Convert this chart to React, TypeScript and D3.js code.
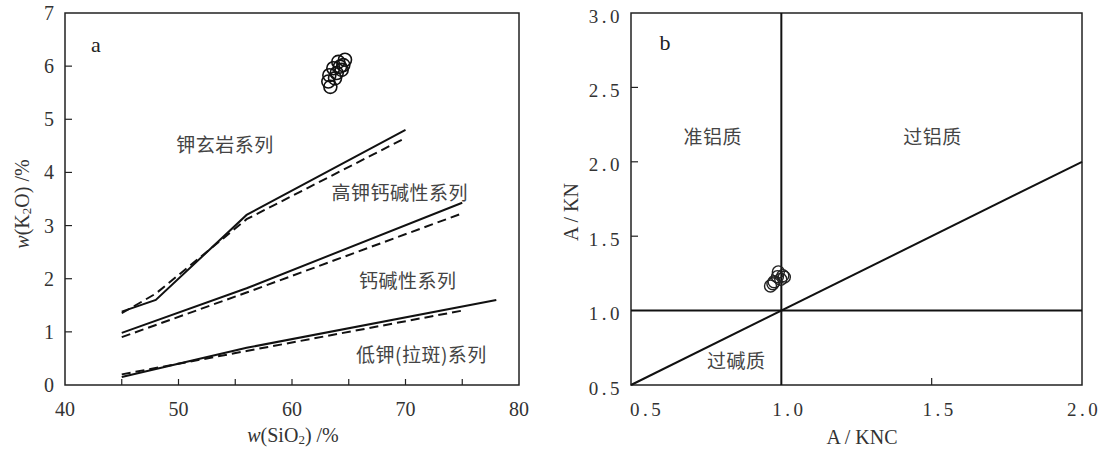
import React from 'react';
import * as d3 from 'd3';

// ---------- Panel a data ----------
const aXTicks = [40, 50, 60, 70, 80];
const aYTicks = [0, 1, 2, 3, 4, 5, 6, 7];
const aXInnerTicks = [45, 50, 55, 60, 65, 70, 75];
const aYInnerTicks = [1, 2, 3, 4, 5, 6];

const shoSolid: [number, number][] = [[45, 1.38], [48, 1.6], [56, 3.2], [70, 4.8]];
const shoDashed: [number, number][] = [[45, 1.35], [48, 1.72], [56, 3.12], [70, 4.65]];
const hkSolid: [number, number][] = [[45, 0.98], [56, 1.82], [75, 3.43]];
const hkDashed: [number, number][] = [[45, 0.9], [56, 1.74], [75, 3.23]];
const lkSolid: [number, number][] = [[45, 0.15], [56, 0.7], [78, 1.6]];
const lkDashed: [number, number][] = [[45, 0.2], [56, 0.64], [75, 1.4]];

const sio2 = [63.38, 63.2, 63.29, 63.64, 64.08, 64.67, 64.52, 64.38, 63.94, 63.79, 64.23];
const k2o = [5.61, 5.71, 5.83, 5.96, 6.08, 6.12, 6.02, 5.93, 5.87, 5.77, 5.99];

const aLabels = ['钾玄岩系列', '高钾钙碱性系列', '钙碱性系列', '低钾(拉斑)系列'];
const aLabelX = [54.1, 69.5, 70.2, 71.4];
const aLabelY = [4.55, 3.65, 1.99, 0.6];

// ---------- Panel b data ----------
const bXTicks = [0.5, 1.0, 1.5, 2.0];
const bYTicks = [0.5, 1.0, 1.5, 2.0, 2.5, 3.0];
const bYInnerTicks = [1.5, 2.0, 2.5];
const bXInnerTicks = [1.5];

const ankc = [0.964, 0.972, 0.976, 0.987, 0.99, 0.998, 1.005, 1.01];
const akn = [1.165, 1.18, 1.194, 1.228, 1.26, 1.21, 1.235, 1.225];

const bLabels = ['准铝质', '过铝质', '过碱质'];
const bLabelX = [0.772, 1.503, 0.85];
const bLabelY = [2.176, 2.176, 0.67];

const serif = '"Liberation Serif", "DejaVu Serif", serif';
const cjk = '"Noto Sans CJK SC", sans-serif';

export default function App() {
  // Panel a geometry
  const aL = 65, aR = 519, aT = 13, aB = 385;
  const ax = d3.scaleLinear().domain([40, 80]).range([aL, aR]);
  const ay = d3.scaleLinear().domain([0, 7]).range([aB, aT]);
  const aLine = d3.line<[number, number]>().x(d => ax(d[0])).y(d => ay(d[1]));

  // Panel b geometry
  const bL = 631, bR = 1082, bT = 13, bB = 385;
  const bx = d3.scaleLinear().domain([0.5, 2.0]).range([bL, bR]);
  const by = d3.scaleLinear().domain([0.5, 3.0]).range([bB, bT]);
  const bLine = d3.line<[number, number]>().x(d => bx(d[0])).y(d => by(d[1]));
  const fmt = d3.format('.1f');

  const solidLines = [shoSolid, hkSolid, lkSolid];
  const dashedLines = [shoDashed, hkDashed, lkDashed];
  const bXOffset = (t: number) => (t === 0.5 ? 16 : t === 2.0 ? 2 : 8);

  return (
    <svg width={1104} height={450} style={{ position: 'absolute', left: 0, top: 0, background: '#fff' }}>
      <rect x={0} y={0} width={1104} height={450} fill="#fff" />
      {/* ---------- Panel a ---------- */}
      <g>
        <rect x={aL} y={aT} width={aR - aL} height={aB - aT} fill="none" stroke="#222" strokeWidth={1.5} />
        {aXInnerTicks.map(t => (
          <line key={'axt' + t} x1={ax(t)} x2={ax(t)} y1={aB} y2={aB - 6} stroke="#222" strokeWidth={1.2} />
        ))}
        {aYInnerTicks.map(t => (
          <line key={'ayt' + t} x1={aL} x2={aL + 7} y1={ay(t)} y2={ay(t)} stroke="#222" strokeWidth={1.2} />
        ))}
        {aXTicks.map(t => (
          <text key={'axl' + t} x={ax(t)} y={409} textAnchor="middle" dominantBaseline="central"
            fontFamily={serif} fontSize={20} fill="#333">{t}</text>
        ))}
        {aYTicks.map(t => (
          <text key={'ayl' + t} x={aL - 11} y={ay(t)} textAnchor="end" dominantBaseline="central"
            fontFamily={serif} fontSize={20} fill="#333">{t}</text>
        ))}
        {solidLines.map((l, i) => (
          <path key={'sl' + i} d={aLine(l) || ''} fill="none" stroke="#111" strokeWidth={2} />
        ))}
        {dashedLines.map((l, i) => (
          <path key={'dl' + i} d={aLine(l) || ''} fill="none" stroke="#111" strokeWidth={2} strokeDasharray="9,5" />
        ))}
        {sio2.map((s, i) => (
          <circle key={'ap' + i} cx={ax(s)} cy={ay(k2o[i])} r={6.5} fill="none" stroke="#111" strokeWidth={1.6} />
        ))}
        {aLabels.map((t, i) => (
          <text key={'al' + i} x={ax(aLabelX[i])} y={ay(aLabelY[i])} textAnchor="middle" dominantBaseline="central"
            fontFamily={cjk} fontSize={19} letterSpacing={0.5} fill="#444">{t}</text>
        ))}
        <text x={96} y={44} textAnchor="middle" dominantBaseline="central" fontFamily={serif} fontSize={22} fill="#222">a</text>
        <text x={293} y={435} textAnchor="middle" dominantBaseline="central" fontFamily={serif} fontSize={20} fill="#333">
          <tspan fontStyle="italic">w</tspan>
          <tspan>(SiO</tspan>
          <tspan fontSize={13} dy={4}>2</tspan>
          <tspan dy={-4}>) /%</tspan>
        </text>
        <text transform={`translate(22,204) rotate(-90)`} textAnchor="middle" dominantBaseline="central"
          fontFamily={serif} fontSize={20} fill="#333">
          <tspan fontStyle="italic">w</tspan>
          <tspan>(K</tspan>
          <tspan fontSize={13} dy={4}>2</tspan>
          <tspan dy={-4}>O) /%</tspan>
        </text>
      </g>

      {/* ---------- Panel b ---------- */}
      <g>
        <rect x={bL} y={bT} width={bR - bL} height={bB - bT} fill="none" stroke="#222" strokeWidth={1.5} />
        {bYInnerTicks.map(t => (
          <line key={'byt' + t} x1={bL} x2={bL + 7} y1={by(t)} y2={by(t)} stroke="#222" strokeWidth={1.2} />
        ))}
        {bXInnerTicks.map(t => (
          <line key={'bxt' + t} x1={bx(t)} x2={bx(t)} y1={bB} y2={bB - 7} stroke="#222" strokeWidth={1.2} />
        ))}
        {bXTicks.map(t => (
          <text key={'bxl' + t} x={bx(t) + bXOffset(t)} y={409} textAnchor="middle" dominantBaseline="central"
            fontFamily={serif} fontSize={19} letterSpacing={3.5} fill="#333">{fmt(t)}</text>
        ))}
        {bYTicks.map(t => (
          <text key={'byl' + t} x={bL - 8} y={by(t) + 3} textAnchor="end" dominantBaseline="central"
            fontFamily={serif} fontSize={19} letterSpacing={3.5} fill="#333">{fmt(t)}</text>
        ))}
        <path d={bLine([[1.0, 0.5], [1.0, 3.0]]) || ''} stroke="#111" strokeWidth={2} fill="none" />
        <path d={bLine([[0.5, 1.0], [2.0, 1.0]]) || ''} stroke="#111" strokeWidth={2} fill="none" />
        <path d={bLine([[0.5, 0.5], [2.0, 2.0]]) || ''} stroke="#111" strokeWidth={2} fill="none" />
        {ankc.map((v, i) => (
          <circle key={'bp' + i} cx={bx(v)} cy={by(akn[i])} r={6} fill="none" stroke="#222" strokeWidth={1.4} />
        ))}
        {bLabels.map((t, i) => (
          <text key={'bl' + i} x={bx(bLabelX[i])} y={by(bLabelY[i])} textAnchor="middle" dominantBaseline="central"
            fontFamily={cjk} fontSize={19} letterSpacing={0.5} fill="#444">{t}</text>
        ))}
        <text x={665} y={42} textAnchor="middle" dominantBaseline="central" fontFamily={serif} fontSize={22} fill="#222">b</text>
        <text x={862} y={437} textAnchor="middle" dominantBaseline="central" fontFamily={serif} fontSize={20} fill="#333">A / KNC</text>
        <text transform={`translate(571,212) rotate(-90)`} textAnchor="middle" dominantBaseline="central"
          fontFamily={serif} fontSize={20} fill="#333">A / KN</text>
      </g>
    </svg>
  );
}
